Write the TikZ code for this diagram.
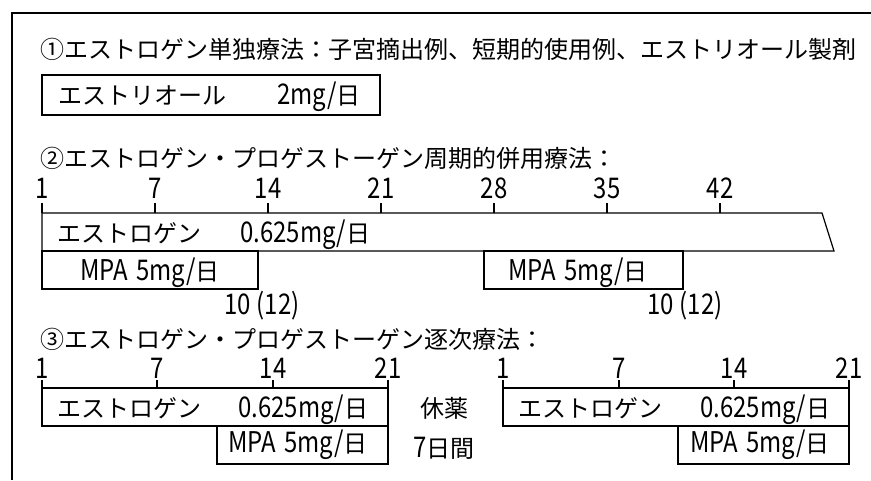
\documentclass[tikz,border=0pt]{standalone}
\usepackage{fontspec}
\setmainfont{Noto Sans CJK JP}
\newfontfamily\latnfont[FakeStretch=0.84]{Noto Sans CJK JP}
\newcommand\latn[1]{{\fontsize{28.5}{28.5}\latnfont #1}}
\begin{document}
\begin{tikzpicture}[x=1pt,y=-1pt,
  txt/.style={inner sep=0pt, anchor=base west, font=\fontsize{24}{24}\selectfont},
  num/.style={inner sep=0pt, anchor=base, font=\fontsize{28.5}{28.5}\latnfont},
  bar/.style={draw, line width=1.2pt, line join=miter},
  frameline/.style={line width=1.7pt},
  tickline/.style={line width=1.2pt}]
\useasboundingbox (0,0) rectangle (871,480);
% frame
\draw[frameline] (871,13) -- (12,13) -- (12,480);
% ---- section 1
\node[txt] (t1) at (40,58) {①エストロゲン単独療法：子宮摘出例、短期的使用例、エストリオール製剤};
\draw[bar] (42,75) rectangle (380,115);
\node[txt] (e1) at (58,104) {エストリオール};
\node[txt] (d1) at (277,104) {\latn{2mg/}日};
% ---- section 2
\node[txt] (t2) at (40,167) {②エストロゲン・プロゲストーゲン周期的併用療法：};
\foreach \x/\l [count=\i] in {42/1,155/7,268/14,381/21,494/28,607/35,720/42}{
  \node[num] (a\i) at (\x,198) {\l};
  \draw[tickline] (\x,203) -- (\x,213);
}
\draw[bar] (42,213) -- (822,213) -- (834,251) -- (42,251) -- cycle;
\node[txt] (e2) at (57,242) {エストロゲン};
\node[txt] (d2) at (240,242) {\latn{0.625mg/}日};
\draw[bar] (42,251) rectangle (258,289);
\node[txt] (m2a) at (80,280) {\latn{MPA\hspace{3pt} 5mg/}日};
\draw[bar] (484,251) rectangle (683,289);
\node[txt] (m2b) at (508,280) {\latn{MPA\hspace{3pt} 5mg/}日};
\node[txt] (n2a) at (224,314) {\latn{10\hspace{6pt}(12)}};
\node[txt] (n2b) at (647,314) {\latn{10\hspace{6pt}(12)}};
% ---- section 3
\node[txt] (t3) at (40,348) {③エストロゲン・プロゲストーゲン逐次療法：};
\foreach \x/\l [count=\i] in {42/1,157/7,273/14,388/21,503/1,619/7,734/14,849/21}{
  \node[num] (b\i) at (\x,378) {\l};
  \draw[tickline] (\x,380) -- (\x,388);
}
\draw[bar] (42,388) rectangle (388,426);
\draw[bar] (217,426) rectangle (388,464);
\node[txt] (e3a) at (57,417) {エストロゲン};
\node[txt] (d3a) at (238,417) {\latn{0.625mg/}日};
\node[txt] (m3a) at (228,452) {\latn{MPA\hspace{3pt} 5mg/}日};
\draw[bar] (503,388) rectangle (849,426);
\draw[bar] (678,426) rectangle (849,464);
\node[txt] (e3b) at (518,417) {エストロゲン};
\node[txt] (d3b) at (700,417) {\latn{0.625mg/}日};
\node[txt] (m3b) at (690,452) {\latn{MPA\hspace{3pt} 5mg/}日};
\node[txt] (k1) at (420,417) {休薬};
\node[txt] (k2) at (413,457) {\latn{7}日間};
\end{tikzpicture}
\end{document}
